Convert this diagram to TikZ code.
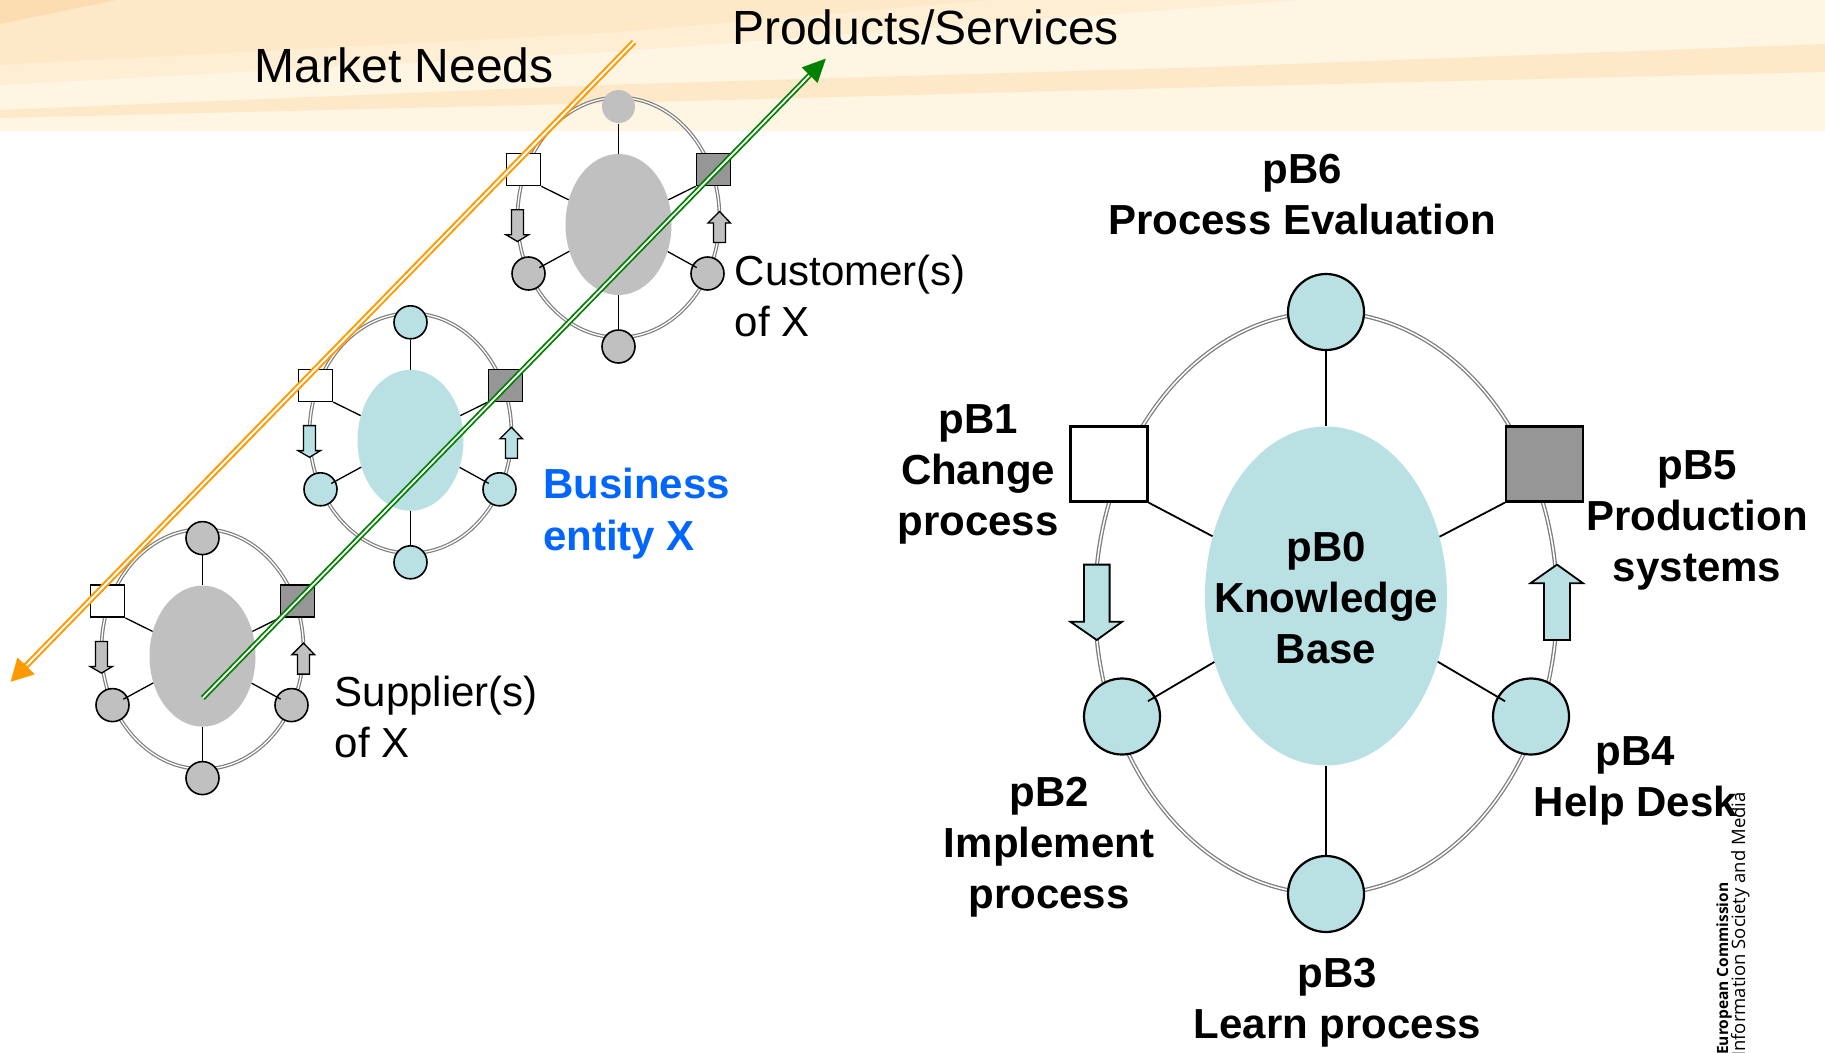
\documentclass[tikz,border=0pt]{standalone}
\usepackage{fontspec}
\setmainfont{Liberation Sans}
\newfontfamily\ecfont{Open Sans}
\usetikzlibrary{arrows.meta,calc,shapes.geometric}
\definecolor{tealf}{HTML}{B9E0E3}
\definecolor{grayf}{HTML}{C0C0C0}
\definecolor{darksq}{HTML}{969696}
\definecolor{ringc}{HTML}{7D7D7D}
\definecolor{orangel}{HTML}{FF9900}
\definecolor{greenl}{HTML}{008000}
\definecolor{bluet}{HTML}{0066FF}
\definecolor{bannerbase}{HTML}{FEF5E3}
\definecolor{bannermid}{HTML}{FDE9C8}
\definecolor{bannerlight}{HTML}{FEEED4}
\definecolor{bannerdark}{HTML}{FBDDB1}
\newcommand\fnormal{\fontsize{42}{51}\selectfont}
\newcommand\fboldlbl{\fontsize{42}{51}\selectfont\bfseries}
\newcommand\fbiglbl{\fontsize{48}{56}\selectfont}
\tikzset{
  ring/.style={draw=ringc, double=white, line width=1.2pt, double distance=1.3pt},
  minic/.style={circle, draw=black, line width=1.6pt, minimum size=33pt, inner sep=0pt},
  minisq/.style={rectangle, draw=black, line width=1.6pt, minimum width=34pt, minimum height=32pt, inner sep=0pt},
  minib/.style={ellipse, draw=none, minimum width=106pt, minimum height=141pt, inner sep=0pt},
  minispoke/.style={draw=black, line width=1.3pt},
  miniarrow/.style={draw=black, line width=1.3pt, line join=miter},
  bigc/.style={circle, draw=black, line width=2.2pt, minimum size=76pt, inner sep=0pt, fill=tealf},
  bigsq/.style={rectangle, draw=black, line width=2.2pt, minimum width=77pt, minimum height=75pt, inner sep=0pt},
  bigspoke/.style={draw=black, line width=1.8pt},
  blockarrow/.style={draw=black, line width=1.8pt, line join=miter, fill=tealf},
  lbl/.style={font=\fboldlbl, align=center, inner sep=0pt},
  txtl/.style={font=\fnormal, align=left, inner sep=0pt},
  pics/mini/.style n args={2}{code={
    \draw[ring] (0,111) ellipse [x radius=101, y radius=120];
    \node[minib, fill=#1] (-big) at (0,118) {};
    \node[minic, fill=#1, #2] (-top) at (0,0) {};
    \node[minisq, fill=white] (-sqL) at (-95,63) {};
    \node[minisq, fill=darksq] (-sqR) at (95,63) {};
    \node[minic, fill=#1] (-cL) at (-90,167) {};
    \node[minic, fill=#1] (-cR) at (89,167) {};
    \node[minic, fill=#1] (-cB) at (0,240) {};
    \draw[minispoke] (-top) -- (-big);
    \draw[minispoke] (-sqL.south east) -- (-big);
    \draw[minispoke] (-sqR.south west) -- (-big);
    \draw[minispoke, shorten >=-5pt] (-big) -- (-cL);
    \draw[minispoke, shorten >=-5pt] (-big) -- (-cR);
    \draw[minispoke] (-big) -- (-cB);
    \draw[miniarrow, fill=#1] (-107,103.3) -- (-95,103.3) -- (-95,128.3) -- (-90,128.3) -- (-101,135) -- (-112.5,128.3) -- (-107,128.3) -- cycle;
    \draw[miniarrow, fill=#1] (95,136) -- (107,136) -- (107,116.5) -- (112,116.5) -- (101,105) -- (89.5,116.5) -- (95,116.5) -- cycle;
  }}
}
\begin{document}
\begin{tikzpicture}[x=1pt,y=-1pt]
\useasboundingbox (0,0) rectangle (1825,1052);
\fill[white] (0,0) rectangle (1825,1052);
% banner
\fill[bannerbase] (0,0) rectangle (1825,131);
\fill[bannerlight] (0,65) -- (610,33) -- (990,0) -- (1300,0) -- (610,52) -- (0,85) -- cycle;
\fill[bannermid] (0,24) -- (117,0) -- (990,0) -- (610,33) -- (0,65) -- cycle;
\fill[bannerdark] (0,0) -- (117,0) -- (0,24) -- cycle;
\fill[bannermid] (0,110) -- (600,85) -- (1210,67) -- (1825,44) -- (1825,72) -- (1210,87) -- (610,103) -- (0,118) -- cycle;

% mini diagrams
\pic (cust) at (618.5,106.5) {mini={grayf}{draw=none}};
\pic (biz) at (410.5,322.3) {mini={tealf}{}};
\pic (sup) at (202.5,538.1) {mini={grayf}{}};

% right diagram
\draw[ring, line width=1.3pt, double distance=1.5pt] (1326,603) ellipse [x radius=231, y radius=291];
\node[ellipse, draw=none, fill=tealf, minimum width=242pt, minimum height=339pt, inner sep=0pt] (pB0) at (1326,596) {};
\node[bigc] (pB6) at (1326,312) {};
\node[bigc] (pB3) at (1326,894) {};
\node[bigc] (pB2) at (1122,716.5) {};
\node[bigc] (pB4) at (1531,716.5) {};
\node[bigsq, fill=white] (pB1) at (1109,464) {};
\node[bigsq, fill=darksq] (pB5) at (1544.5,464) {};
\draw[bigspoke] (pB6) -- (pB0);
\draw[bigspoke] (pB0) -- (pB3);
\draw[bigspoke] (pB1.south east) -- (pB0);
\draw[bigspoke] (pB5.south west) -- (pB0);
\draw[bigspoke, shorten >=-9pt] (pB0) -- (pB2);
\draw[bigspoke, shorten >=-9pt] (pB0) -- (pB4);
\draw[blockarrow] (1084,564.6) -- (1109.6,564.6) -- (1109.6,621.8) -- (1122,621.8) -- (1096.8,640) -- (1070.5,621.8) -- (1084,621.8) -- cycle;
\draw[blockarrow] (1544,640) -- (1570,640) -- (1570,583.2) -- (1583,583.2) -- (1557,564.6) -- (1530.5,583.2) -- (1544,583.2) -- cycle;

% right labels
\node[lbl, anchor=north] (tB6) at (1302,154) {pB6\\Process Evaluation};
\node[lbl, anchor=north] (tB1) at (978,404) {pB1\\Change\\process};
\node[lbl, anchor=north] (tB5) at (1697,450.6) {pB5\\Production\\systems};
\node[lbl, anchor=north] (tB0) at (1326,532) {pB0\\Knowledge\\Base};
\node[lbl, anchor=north] (tB2) at (1049,776.5) {pB2\\Implement\\process};
\node[lbl, anchor=north] (tB4) at (1635.5,736) {pB4\\Help Desk};
\node[lbl, anchor=north] (tB3) at (1337.5,958) {pB3\\Learn process};

% left labels
\node[txtl, anchor=north west] (tCust) at (734.5,254.5) {Customer(s)\\of X};
\node[txtl, anchor=north west] (tSup) at (334.5,676) {Supplier(s)\\of X};
\node[lbl, align=left, anchor=north west, text=bluet, font=\fontsize{42}{52}\selectfont\bfseries] (tBiz) at (543,468) {Business\\entity X};
\node[font=\fbiglbl, anchor=base west, inner sep=0pt] (tMarket) at (254.5,82.7) {Market Needs};
\node[font=\fbiglbl, anchor=base west, inner sep=0pt] (tProd) at (732,44) {Products/Services};

% footer
\node[rotate=90, anchor=base west, inner sep=0pt, font=\ecfont\bfseries\fontsize{15.5}{18}\selectfont] (ec1) at (1728,1055) {European Commission};
\node[rotate=90, anchor=base west, inner sep=0pt, font=\ecfont\fontsize{18.5}{22}\selectfont] (ec2) at (1745,1057) {Information Society and Media};

% market / product lines
\coordinate (mnTop) at (634,42);
\coordinate (mnTip) at (10.7,681.7);
\coordinate (psStart) at (202.8,698);
\coordinate (psTip) at (825.7,58.7);
\draw[draw=orangel, double=white, line width=2pt, double distance=2pt] (mnTop) -- ($(mnTip)!14pt!(mnTop)$);
\draw[draw=orangel, line width=0.4pt, -{Triangle[length=22pt,width=24pt]}] ($(mnTip)!24pt!(mnTop)$) -- (mnTip);
\draw[draw=greenl, double=white, line width=1.8pt, double distance=1.8pt] (psStart) -- ($(psTip)!14pt!(psStart)$);
\draw[draw=greenl, line width=0.4pt, -{Triangle[length=23pt,width=22pt]}] ($(psTip)!24pt!(psStart)$) -- (psTip);
\end{tikzpicture}
\end{document}
